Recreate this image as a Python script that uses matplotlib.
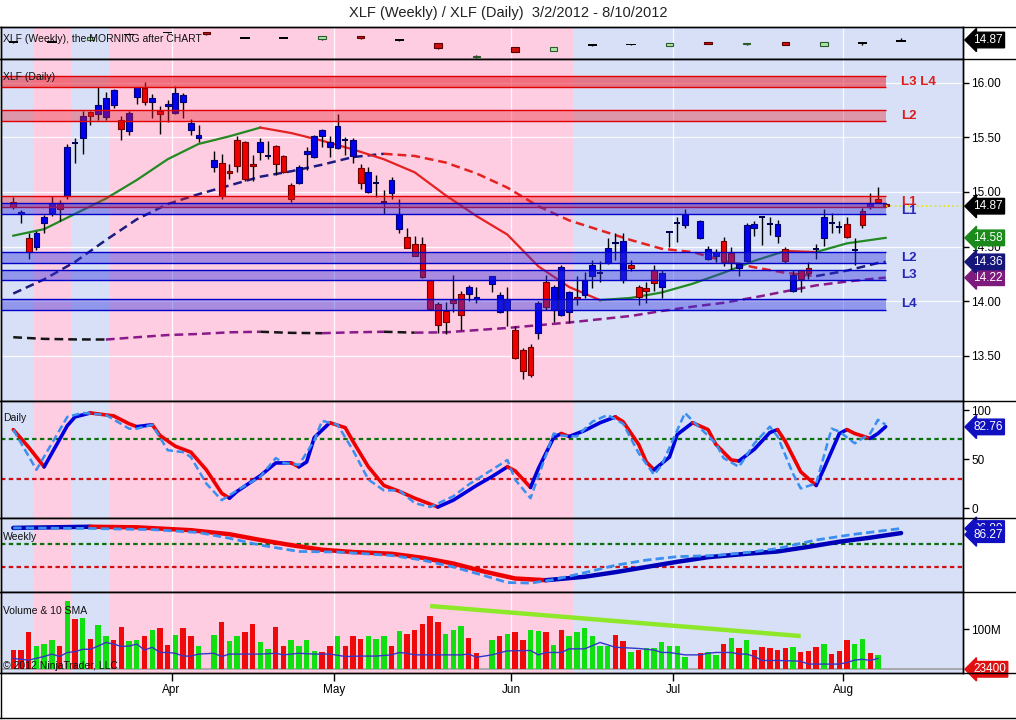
import numpy as np
import pandas as pd
import matplotlib
matplotlib.use("Agg")
import matplotlib.pyplot as plt
from matplotlib.lines import Line2D
from matplotlib.transforms import blended_transform_factory

plt.rcParams['font.family'] = ['Liberation Sans', 'DejaVu Sans']

# ---------------- data (slot = weekday index starting 3/2/2012) ----------------
opens = [14.91, 14.80, 14.58, 14.50, 14.72, 14.81, 14.90, 14.96, 15.44, 15.49,
         15.73, 15.71, 15.69, 15.80, 15.66, 15.56, 15.87, 15.95, 15.82, 15.745,
         15.79, 15.72, 15.82, 15.57, 15.49, None, 15.23, 15.27, 15.19, 15.48,
         15.46, 15.26, 15.37, 15.32, 15.42, 15.33, 15.06, 15.08, 15.35, 15.32,
         15.51, 15.41, 15.40, 15.47, 15.33, 15.22, 15.00, 15.07, 14.915, 14.99,
         14.66, 14.59, 14.52, 14.52, 14.19, 13.97, 13.91, 14.01, 14.07, 14.07,
         14.02, None, 14.16, 13.90, 13.92, 13.74, 13.55, 13.58, 13.71, 14.18,
         13.92, 13.87, 13.90, 14.035, 14.06, 14.23, 14.25, 14.35, 14.525, 14.19,
         14.33, 14.13, 14.12, 14.29, 14.13, 14.625, 14.71, 14.70, None, 14.58,
         14.39, 14.41, 14.55, 14.445, 14.30, 14.37, 14.67, 14.77, 14.70, 14.60,
         14.48, 14.09, 14.29, 14.30, 14.475, 14.58, 14.715, 14.675, 14.71, 14.465,
         14.83, 14.86, 14.94, 14.89]
highs = [14.95, 14.835, 14.62, 14.64, 14.79, 14.96, 14.93, 15.44, 15.49, 15.74,
         15.74, 15.96, 15.92, 15.94, 15.70, 15.74, 15.96, 16.01, 15.90, 15.79,
         15.84, 15.97, 15.91, 15.67, 15.61, None, 15.38, 15.35, 15.26, 15.51,
         15.47, 15.34, 15.49, 15.47, 15.43, 15.34, 15.08, 15.25, 15.41, 15.52,
         15.58, 15.51, 15.71, 15.50, 15.49, 15.26, 15.23, 15.155, 15.02, 15.14,
         14.94, 14.67, 14.60, 14.59, 14.19, 13.99, 13.99, 14.24, 14.09, 14.15,
         14.13, None, 14.23, 14.08, 14.13, 13.77, 13.57, 13.61, 14.00, 14.24,
         14.15, 14.33, 14.09, 14.23, 14.27, 14.38, 14.37, 14.58, 14.62, 14.62,
         14.38, 14.15, 14.18, 14.33, 14.29, 14.64, 14.77, 14.84, None, 14.74,
         14.51, 14.48, 14.59, 14.50, 14.36, 14.72, 14.73, 14.78, 14.77, 14.74,
         14.50, 14.29, 14.29, 14.36, 14.52, 14.84, 14.81, 14.73, 14.77, 14.58,
         14.85, 14.99, 15.05, 14.90]
lows = [14.84, 14.72, 14.39, 14.47, 14.62, 14.78, 14.73, 14.94, 15.27, 15.35,
        15.61, 15.66, 15.66, 15.77, 15.48, 15.52, 15.81, 15.80, 15.68, 15.53,
        15.64, 15.71, 15.68, 15.52, 15.46, None, 15.18, 14.94, 15.12, 15.18,
        15.10, 15.10, 15.29, 15.30, 15.16, 15.17, 14.91, 15.07, 15.20, 15.31,
        15.41, 15.32, 15.39, 15.34, 15.27, 15.03, 14.99, 14.95, 14.80, 14.94,
        14.62, 14.49, 14.41, 14.21, 13.92, 13.71, 13.70, 13.90, 13.74, 14.00,
        13.98, None, 14.08, 13.89, 13.77, 13.47, 13.29, 13.31, 13.65, 13.92,
        13.81, 13.86, 13.80, 13.965, 14.03, 14.12, 14.18, 14.34, 14.38, 14.17,
        14.28, 13.965, 13.98, 14.09, 14.03, 14.50, 14.545, 14.67, None, 14.57,
        14.38, 14.36, 14.32, 14.29, 14.23, 14.36, 14.60, 14.515, 14.61, 14.53,
        14.35, 14.08, 14.08, 14.20, 14.39, 14.51, 14.62, 14.62, 14.58, 14.33,
        14.67, 14.84, 14.90, 14.86]
closes = [14.86, 14.82, 14.45, 14.62, 14.77, 14.90, 14.84, 15.41, 15.45, 15.70,
          15.70, 15.80, 15.86, 15.93, 15.58, 15.72, 15.96, 15.82, 15.86, 15.71,
          15.81, 15.91, 15.89, 15.63, 15.52, None, 15.29, 14.96, 15.17, 15.24,
          15.12, 15.24, 15.455, 15.33, 15.26, 15.18, 14.94, 15.23, 15.38, 15.51,
          15.57, 15.46, 15.60, 15.48, 15.48, 15.08, 15.18, 15.08, 14.905, 15.11,
          14.80, 14.49, 14.41, 14.22, 13.93, 13.78, 13.81, 13.98, 13.87, 14.13,
          14.04, None, 14.23, 14.06, 14.02, 13.48, 13.36, 13.32, 13.98, 13.95,
          14.13, 14.31, 14.08, 14.02, 14.19, 14.33, 14.26, 14.49, 14.535, 14.55,
          14.30, 14.04, 14.09, 14.17, 14.26, 14.63, 14.715, 14.80, None, 14.73,
          14.48, 14.45, 14.36, 14.35, 14.34, 14.70, 14.71, 14.775, 14.705, 14.71,
          14.37, 14.24, 14.20, 14.255, 14.48, 14.77, 14.72, 14.68, 14.59, 14.47,
          14.70, 14.90, 14.91, 14.87]

# volume in millions, direction R/G, '-' = holiday
volumes = [48, 48, 92, 58, 63, 73, 57, 171, 126, 128,
           76, 111, 83, 73, 106, 71, 73, 82, 98, 104,
           61, 86, 104, 83, 58, None, 86, 117, 71, 82,
           92, 112, 67, 51, 106, 57, 73, 58, 73, 46,
           44, 57, 84, 57, 84, 76, 83, 76, 83, 57,
           96, 87, 98, 112, 132, 117, 87, 98, 108, 78,
           41, None, 73, 83, 88, 93, 73, 98, 96, 93,
           61, 98, 83, 93, 103, 83, 58, 58, 86, 71,
           43, 48, 53, 53, 68, 58, 58, 31, None, 41,
           43, 36, 63, 78, 53, 73, 48, 56, 53, 48,
           53, 56, 43, 46, 56, 63, 38, 46, 73, 63,
           76, 41, 36, 0.0234]
vol_dir = ("RRRGGGRGRGRGGRRGGRGRRGRRG" + "-" +
           "GRGGRRGGRRGGGGRRGRRRGGGRGRRRRRGGGRR" + "-" +
           "GRGRRGGRGRGGGGGGRRGRGGGGGG" + "-" +
           "RGGRGRGRRRRRGRRRGRRRGGRG" + "G")

vsma_slots = [0, 2, 4, 5, 6, 7, 8, 9, 10, 11, 12, 13, 14, 15, 16, 17, 18, 19, 20, 21,
              22, 23, 24, 26, 27, 28, 30, 32, 34, 35, 37, 39, 41, 43, 45, 47, 49, 50, 51, 52,
              56, 57, 58, 59, 60, 62, 64, 67, 68, 69, 71, 72, 74, 76, 77, 78, 81, 83, 84, 85,
              87, 89, 90, 91, 93, 94, 95, 96, 97, 99, 101, 102, 103, 104, 107, 108, 109, 110, 111, 112]
vsma = [27, 23, 32, 38, 32, 42, 44, 50, 50, 58, 67, 63, 57, 58, 63, 48, 55, 42, 42, 40,
        33, 33, 38, 40, 32, 38, 38, 38, 40, 36, 40, 38, 38, 32, 33, 33, 36, 42, 40, 36,
        36, 36, 36, 38, 30, 36, 46, 47, 36, 42, 42, 51, 51, 67, 61, 55, 52, 48, 42, 42,
        36, 36, 40, 42, 42, 38, 38, 32, 22, 22, 21, 20, 13, 13, 13, 17, 23, 25, 22, 27]
vol_trend_slots = [54, 102]
vol_trend = [158, 83]

# moving averages
ma_slots = list(range(0, 113, 4)) + [113]
sma20 = [14.60, 14.66, 14.80, 14.94, 15.11, 15.30, 15.44, 15.51, 15.59, 15.54,
         15.47, 15.39, 15.30, 15.18, 14.97, 14.78, 14.61, 14.32, 14.13, 14.01,
         14.03, 14.08, 14.16, 14.26, 14.37, 14.46, 14.45, 14.53, 14.57, 14.58]
sma50 = [14.07, 14.20, 14.36, 14.56, 14.75, 14.89, 14.98, 15.06, 15.14, 15.19,
         15.25, 15.32, 15.35, 15.33, 15.27, 15.17, 15.04, 14.87, 14.74, 14.65,
         14.56, 14.48, 14.45, 14.37, 14.31, 14.26, 14.23, 14.28, 14.35, 14.36]
sma200 = [13.67, 13.655, 13.65, 13.649, 13.67, 13.69, 13.70, 13.715, 13.72, 13.71,
          13.707, 13.715, 13.72, 13.712, 13.715, 13.735, 13.755, 13.78, 13.805, 13.835,
          13.865, 13.91, 13.95, 13.985, 14.035, 14.09, 14.145, 14.18, 14.21, 14.215]

# support / resistance zones: (low, high, label, kind)
zones = [(15.96, 16.06, 'L3 L4', 'r'), (15.65, 15.75, 'L2', 'r'), (14.86, 14.96, 'L1', 'r'),
         (14.80, 14.90, 'L1', 'b'), (14.35, 14.45, 'L2', 'b'), (14.19, 14.29, 'L3', 'b'),
         (13.92, 14.02, 'L4', 'b')]

# daily stochastics
dst_slots = [0, 2, 4, 5, 7, 8, 10, 13, 15, 16, 18, 19, 21, 23, 25, 27, 28, 29, 32, 34,
             36, 37, 38, 39, 41, 43, 44, 46, 48, 50, 52, 55, 57, 60, 62, 64, 65, 67, 68, 70,
             71, 72, 74, 76, 78, 79, 81, 82, 83, 85, 86, 88, 90, 91, 93, 94, 96, 98, 99, 100,
             102, 104, 105, 107, 108, 109, 111, 112, 113]
dst_slow = [80, 62, 42, 56, 84, 93, 97, 94, 86, 83, 85, 74, 63, 57, 39, 15, 10, 17, 33, 46,
            46, 42, 47, 72, 87, 82, 68, 42, 23, 17, 10, 1, 8, 23, 32, 42, 38, 21, 40, 72,
            76, 73, 79, 87, 93, 88, 65, 47, 39, 52, 75, 87, 80, 65, 49, 48, 60, 77, 80, 68,
            37, 23, 40, 76, 80, 76, 71, 76, 83]
dsf_slots = [0, 3, 7, 9, 12, 15, 16, 18, 20, 22, 23, 25, 27, 29, 32, 34, 35, 37, 39, 40,
             42, 44, 46, 48, 50, 52, 54, 57, 59, 62, 64, 65, 67, 70, 71, 73, 75, 77, 79, 81,
             83, 84, 87, 88, 91, 92, 94, 96, 98, 99, 101, 102, 104, 106, 107, 109, 111, 112, 113]
dst_fast = [80, 39, 93, 97, 95, 81, 81, 85, 59, 57, 52, 25, 8, 18, 32, 51, 46, 44, 69, 89,
            85, 59, 29, 18, 18, 5, 1, 12, 24, 39, 49, 29, 10, 76, 74, 73, 88, 95, 86, 56,
            34, 44, 97, 89, 66, 51, 42, 66, 83, 73, 35, 20, 25, 81, 78, 66, 76, 90, 85]

# weekly stochastics
wst_slots = [0, 5, 10, 16, 23, 28, 32, 36, 40, 44, 49, 53, 57, 61, 65, 69, 74, 78, 82, 86,
             90, 95, 99, 103, 107, 111, 115]
wst_slow = [98, 99, 100, 99, 94, 87, 77, 68, 60, 56, 53, 46, 36, 22, 10, 7, 13, 21, 30, 39,
            47, 53, 57, 65, 74, 81, 89]
wsf_slots = [0, 10, 18, 24, 28, 32, 37, 42, 49, 53, 57, 61, 64, 67, 70, 74, 78, 82, 86, 91,
             95, 99, 104, 109, 115]
wst_fast = [98, 97, 95, 90, 80, 68, 57, 56, 50, 42, 30, 15, 3, 2, 8, 20, 33, 42, 48, 50,
            55, 62, 77, 87, 97]

# weekly candles (one per Friday)
wk_open = [14.74, 14.77, 14.87, 15.21, 15.33, 15.33, 15.01, 15.01, 14.91, 15.11, 14.87, 14.71,
           13.83, 14.47, 14.21, 14.57, 14.61, 14.53, 14.77, 14.61, 14.73, 14.53, 14.71, 14.83]
wk_high = [14.76, 14.80, 15.09, 15.27, 15.37, 15.36, 15.04, 15.04, 15.12, 15.12, 14.91, 14.72,
           13.95, 14.48, 14.48, 14.58, 14.66, 14.68, 14.78, 14.72, 14.74, 14.78, 14.72, 14.97]
wk_low = [14.70, 14.74, 14.85, 15.19, 15.31, 15.20, 14.99, 14.99, 14.90, 14.96, 14.83, 14.36,
          13.82, 14.16, 14.20, 14.51, 14.60, 14.52, 14.64, 14.60, 14.56, 14.52, 14.57, 14.82]
wk_close = [14.73, 14.77, 15.07, 15.21, 15.33, 15.21, 15.01, 15.01, 15.11, 14.97, 14.87, 14.37,
            13.93, 14.17, 14.47, 14.57, 14.61, 14.67, 14.65, 14.71, 14.57, 14.77, 14.71, 14.83]

# shaded (pink) periods, in slots
pink_periods = [(2.5, 7.5), (12.5, 72.5)]

dates = pd.bdate_range('2012-03-02', periods=len(closes))
month_starts = [i for i in range(1, len(dates)) if dates[i].month != dates[i - 1].month]
month_ticks = [i - 0.5 for i in month_starts]
month_labels = [dates[i].strftime('%b') for i in month_starts]
wk_slots = [5 * k for k in range(len(wk_close))]

o = np.array(opens, float); h = np.array(highs, float)
l = np.array(lows, float); c = np.array(closes, float)
vol = np.array(volumes, float)
slots = np.arange(len(c))

# ---------------- figure layout ----------------
W, H = 1016, 720
fig = plt.figure(figsize=(W / 100, H / 100), dpi=100)
fig.patch.set_facecolor('white')

PINK = '#ffcde2'
BLUE_BG = '#d7e0f7'
XL = (-1.59, 123.02)


def panel(top, bottom):
    ax = fig.add_axes([1 / W, 1 - bottom / H, 962 / W, (bottom - top) / H])
    ax.set_facecolor(BLUE_BG)
    for a, b in pink_periods:
        ax.axvspan(a, b, color=PINK, lw=0, zorder=0.2)
    ax.set_xlim(*XL)
    ax.set_xticks(month_ticks)
    ax.tick_params(axis='x', length=0, labelbottom=False)
    ax.grid(axis='x', color='white', lw=0.9, alpha=0.9)
    ax.set_axisbelow(True)
    ax.yaxis.tick_right()
    ax.tick_params(axis='y', length=4, width=1, labelsize=8.5, pad=2, colors='black')
    for s in ax.spines.values():
        s.set_linewidth(1)
    return ax


def slope_plot(ax, xs, ys, up_col, down_col, **kw):
    xs = np.asarray(xs, float); ys = np.asarray(ys, float)
    cols = [up_col if ys[i + 1] >= ys[i] else down_col for i in range(len(xs) - 1)]
    start = 0
    for i in range(1, len(cols) + 1):
        if i == len(cols) or cols[i] != cols[start]:
            ax.plot(xs[start:i + 1], ys[start:i + 1], color=cols[start], **kw)
            start = i


def tag(ax, y, text, fc, z=20):
    tr = blended_transform_factory(ax.transAxes, ax.transData)
    ax.text(1.0105, y, text, transform=tr, fontsize=8.5, color='white', va='center', ha='left',
            bbox=dict(boxstyle='larrow,pad=0.15', fc=fc, ec=fc), clip_on=False, zorder=z)


ax_w = panel(27, 59)
ax_p = panel(59, 401)
ax_d = panel(401, 518)
ax_ws = panel(518, 592)
ax_v = panel(592, 673)

# ---------------- weekly candles ----------------
ax_w.set_ylim(13.73, 15.65)
ax_w.set_yticks([])
wo = np.array(wk_open); wc = np.array(wk_close)
ax_w.vlines(wk_slots, wk_low, wk_high, color='black', lw=1, zorder=2)
for x, op, cl in zip(wk_slots, wo, wc):
    if abs(cl - op) < 0.015:
        ax_w.bar(x, 0.1, bottom=op - 0.05, width=1.2, color='black', zorder=3)
    else:
        fc = '#a9e6a9' if cl > op else '#d01010'
        ec = '#2b5a2b' if cl > op else '#5a0000'
        ax_w.bar(x, abs(cl - op), bottom=min(op, cl), width=0.95, color=fc, edgecolor=ec,
                 lw=0.8, zorder=3)
tag(ax_w, wk_close[-1] + 0.04, '14.87', 'black')

# ---------------- daily price ----------------
ax_p.set_ylim(13.086, 16.218)
ax_p.set_yticks([13.5, 14.0, 14.5, 15.0, 15.5, 16.0])
ax_p.set_yticklabels(['%.2f' % v for v in ax_p.get_yticks()])
ax_p.grid(axis='y', color='white', lw=0.9, alpha=0.9)

slope_plot(ax_p, ma_slots, sma200, '#8a1a8a', '#151515', lw=1.8, ls=(0, (3.5, 2)), zorder=2)
slope_plot(ax_p, ma_slots, sma50, '#1c1c80', '#e52222', lw=1.8, ls=(0, (3.5, 2)), zorder=2)
slope_plot(ax_p, ma_slots, sma20, '#238a23', '#e52222', lw=1.6, zorder=2)

ok = ~np.isnan(c)
ax_p.vlines(slots[ok], l[ok], h[ok], color='black', lw=1, zorder=3)
for i in slots[ok]:
    if abs(c[i] - o[i]) < 0.012:
        ax_p.bar(i, 0.018, bottom=c[i] - 0.009, width=0.8, color='#000050', zorder=4)
    else:
        up = c[i] > o[i]
        ax_p.bar(i, abs(c[i] - o[i]), bottom=min(o[i], c[i]), width=0.76,
                 color='#0000ee' if up else '#ee0000',
                 edgecolor='#000070' if up else '#700000', lw=0.8, zorder=4)

last = len(c) - 1
for lo, hi, lab, kind in zones:
    ymid = (lo + hi) / 2
    if kind == 'r':
        fc, ec, tc = '#e8202e', '#e00000', '#dd1c1c'
        alpha = 0.55 if lab == 'L3 L4' else 0.38
    else:
        fc, ec, tc, alpha = '#3232dc', '#0000c8', '#2626b8', 0.42
        if lab == 'L1':
            ymid -= 0.025
    ax_p.fill_between([XL[0], last], lo, hi, color=fc, alpha=alpha, lw=0, zorder=5)
    ax_p.hlines([lo, hi], XL[0], last, color=ec, lw=1, zorder=5)
    ax_p.text(115.0, ymid, lab, color=tc, fontsize=9.5, fontweight='bold',
              va='center', ha='left', zorder=6)

ax_p.hlines(c[last], last, XL[1], color='#e6e600', lw=1.2, ls=':', zorder=5)
tag(ax_p, sma200[-1], '14.22', '#7d1a7d')
tag(ax_p, sma50[-1], '14.36', '#15157a')
tag(ax_p, sma20[-1], '14.58', '#1a8a1a')
tag(ax_p, c[last], '14.87', 'black')

# ---------------- daily stochastics ----------------
ax_d.set_ylim(-10.2, 109.2)
ax_d.set_yticks([0, 50, 100])
ax_d.axhline(70, color='#0a700a', lw=1.6, ls=(0, (2, 1.5)), zorder=1)
ax_d.axhline(30, color='#d01010', lw=1.6, ls=(0, (2, 1.5)), zorder=1)
slope_plot(ax_d, dst_slots, dst_slow, '#0000dd', '#ee0000', lw=2.6, zorder=3,
           solid_capstyle='round')
ax_d.plot(dsf_slots, dst_fast, color='#3a8ff0', lw=1.8, ls=(0, (3, 1.5)), zorder=4)
tag(ax_d, 82.76, '82.76', '#1010c0')

# ---------------- weekly stochastics ----------------
ax_ws.set_ylim(-13.5, 115.2)
ax_ws.set_yticks([])
ax_ws.axhline(70, color='#0a700a', lw=1.6, ls=(0, (2, 1.5)), zorder=1)
ax_ws.axhline(30, color='#d01010', lw=1.6, ls=(0, (2, 1.5)), zorder=1)
slope_plot(ax_ws, wst_slots, wst_slow, '#0000b8', '#ee0000', lw=3.2, zorder=3,
           solid_capstyle='round')
ax_ws.plot(wsf_slots, wst_fast, color='#3a8ff0', lw=2.0, ls=(0, (3, 1.5)), zorder=4)
tag(ax_ws, 96.8, '96.80', '#1010c0', z=19)
tag(ax_ws, 86.27, '86.27', '#1010c0', z=20)

# ---------------- volume ----------------
ax_v.set_ylim(-9.25, 193)
ax_v.set_yticks([100])
ax_v.set_yticklabels(['100M'])
ax_v.axhline(0, color='#a0a0a0', lw=1.2, zorder=1)
okv = ~np.isnan(vol)
vcols = ['#10e010' if d == 'G' else '#ee0a0a' for d in vol_dir]
ax_v.bar(slots[okv], vol[okv], width=0.7, color=[vcols[i] for i in slots[okv]], zorder=2)
ax_v.plot(vsma_slots, vsma, color='#3434c8', lw=1.0, zorder=3)
ax_v.plot(vol_trend_slots, vol_trend, color='#8ee82a', lw=3.2, zorder=4,
          solid_capstyle='butt')
tag(ax_v, 0.0, '23400', '#e01010')

ax_v.set_xticks(month_ticks)
ax_v.set_xticklabels(month_labels)
ax_v.tick_params(axis='x', length=6, width=1, labelbottom=True, labelsize=8.5, pad=2,
                 direction='out')

# ---------------- frame, titles and labels ----------------
def fig_line(x0, y0, x1, y1):
    fig.add_artist(Line2D([x0 / W, x1 / W], [1 - y0 / H, 1 - y1 / H], color='black', lw=1,
                          transform=fig.transFigure))


for yy in (27, 59, 401, 518, 592, 673):
    fig_line(0, yy, W, yy)
fig_line(0, 718, W, 718)
fig_line(0.5, 27, 0.5, 718)
fig_line(963, 27, 963, 673)


def fig_label(x, y, s, **kw):
    fig.text(x / W, 1 - y / H, s, va='center', ha='left', fontsize=7.5, color='#111111', **kw)


fig.text(0.5, 1 - 13 / H, 'XLF (Weekly) / XLF (Daily)  3/2/2012 - 8/10/2012', ha='center',
         va='center', fontsize=10.5, color='#222222')
fig_label(3, 39, 'XLF (Weekly), the MORNING after CHART')
fig_label(3, 77, 'XLF (Daily)')
fig_label(3, 418, 'Daily')
fig_label(3, 537, 'Weekly')
fig_label(3, 611, 'Volume & 10 SMA')
fig_label(3, 666, '\u00a9 2012 NinjaTrader, LLC')

fig.savefig('out.png', dpi=100, facecolor='white')
